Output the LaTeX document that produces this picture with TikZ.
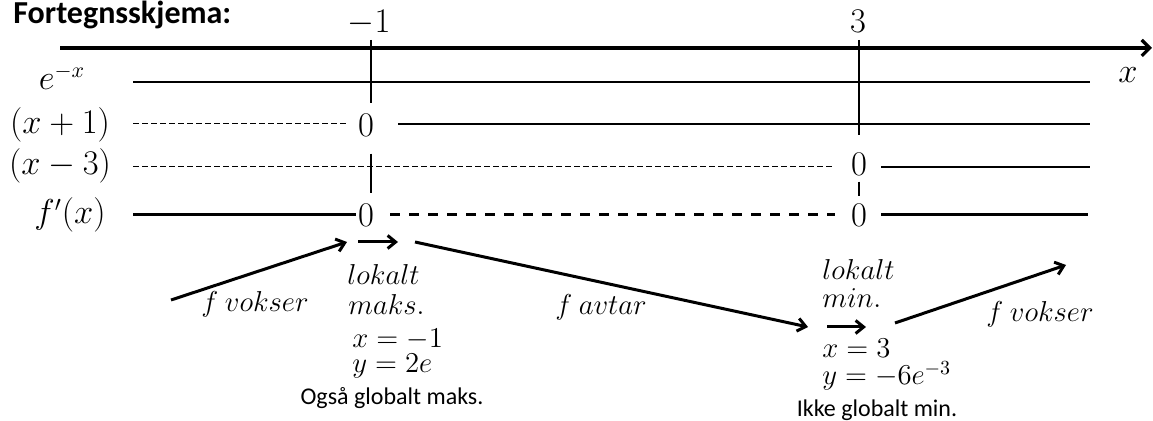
\documentclass[tikz,border=0pt]{standalone}
\usepackage{fontspec}
\setmainfont{Carlito}
\usetikzlibrary{arrows.meta}

\begin{document}
\begin{tikzpicture}[x=0.5pt,y=-0.5pt,
  every node/.style={inner sep=0pt},
  rowlabel/.style={font=\fontsize{16}{18}\selectfont},
  zero/.style={font=\fontsize{16}{18}\selectfont},
  ticklabel/.style={font=\fontsize{17}{19}\selectfont, anchor=base},
  note/.style={font=\fontsize{14}{16}\selectfont, anchor=base west},
  point/.style={align=left, anchor=north west},
  remark/.style={font=\fontsize{12}{14}\selectfont, anchor=base},
  trend/.style={font=\fontsize{14.5}{16}\selectfont, anchor=base},
  axisline/.style={line width=2pt, -{Straight Barb[length=4pt,width=8pt,line width=1.6pt]}},
  signline/.style={line width=1pt},
  sumline/.style={line width=1.5pt},
  negthin/.style={line width=0.5pt, dash pattern=on 3pt off 1.5pt},
  negthick/.style={line width=1.5pt, dash pattern=on 5pt off 4.5pt},
  divider/.style={line width=1pt},
  trendarrow/.style={line width=1.5pt, -{Straight Barb[length=4pt,width=6.5pt,line width=1.5pt]}}
]
\useasboundingbox (0,0) rectangle (1153,421);

% title
\node[font=\fontsize{16}{18}\selectfont\bfseries, anchor=base west] (title) at (13,24) {Fortegnsskjema:};

% number line
\coordinate (ax0) at (60,48);
\coordinate (ax1) at (1152,48);
\draw[axisline] (ax0) -- (ax1);
\node[font=\fontsize{16}{18}\selectfont, anchor=base] (xlab) at (1128,83) {$x$};
\node[ticklabel] (tm1) at (369,33) {$-1$};
\node[ticklabel] (t3) at (858,33) {$3$};

% row labels
\node[rowlabel] (lexp) at (62,77) {$e^{-x}$};
\node[rowlabel] (lp1) at (60,125) {$(x+1)$};
\node[rowlabel] (lm3) at (60,166) {$(x-3)$};
\node[rowlabel] (lfd) at (70,215) {$f'(x)$};

% zeros
\node[zero] (z1) at (366,125) {$0$};
\node[zero] (z3) at (859,164) {$0$};
\node[zero] (zf1) at (366,215) {$0$};
\node[zero] (zf3) at (859,215) {$0$};

% row 1: e^{-x}
\coordinate (r1a) at (133,82);
\coordinate (r1b) at (1090,82);
\draw[signline] (r1a) -- (r1b);

% row 2: (x+1)
\coordinate (r2a) at (133,124);
\coordinate (r2b) at (1090,124);
\draw[negthin, shorten >=5pt] (r2a) -- (z1.west |- r2a);
\draw[signline, shorten <=12pt] (z1.east |- r2b) -- (r2b);

% row 3: (x-3)
\coordinate (r3a) at (133,167);
\coordinate (r3b) at (1090,167);
\draw[negthin, shorten >=9pt] (r3a) -- (z3.west |- r3a);
\draw[signline, shorten <=7pt] (z3.east |- r3b) -- (r3b);

% row 4: f'(x)
\coordinate (r4a) at (133,215);
\coordinate (r4b) at (1088,215);
\draw[sumline, shorten >=1pt] (r4a) -- (zf1.west);
\draw[negthick, shorten <=8pt, shorten >=8pt] (zf1.east) -- (zf3.west);
\draw[sumline, shorten <=7pt] (zf3.east) -- (r4b);

% vertical dividers
\coordinate (v1top) at (371,40);
\coordinate (v3top) at (859,40);
\coordinate (v3bot) at (859,135);
\draw[divider] (v1top) -- ([xshift=2.5pt,yshift=5pt]z1.north);
\draw[divider] ([xshift=2.5pt,yshift=-8.5pt]z1.south) -- ([xshift=2.5pt,yshift=5pt]zf1.north);
\draw[divider] (v3top) -- (v3bot);
\draw[divider] ([yshift=-3pt]z3.south) -- ([yshift=3.5pt]zf3.north);

% monotonicity arrows
\coordinate (a1s) at (171,300);
\coordinate (a1e) at (347,242);
\coordinate (a2s) at (358,242);
\coordinate (a2e) at (398,242);
\coordinate (a3s) at (415,242);
\coordinate (a3e) at (808,327);
\coordinate (a4s) at (827,327);
\coordinate (a4e) at (866,327);
\coordinate (a5s) at (895,323);
\coordinate (a5e) at (1066,265);
\draw[trendarrow] (a1s) -- (a1e);
\draw[trendarrow] (a2s) -- (a2e);
\draw[trendarrow] (a3s) -- (a3e);
\draw[trendarrow] (a4s) -- (a4e);
\draw[trendarrow] (a5s) -- (a5e);

% trend labels
\node[trend] (inc1) at (255,312) {$f\ vokser$};
\node[trend] (dec) at (601,315) {$f\ avtar$};
\node[trend] (inc2) at (1040,322) {$f\ vokser$};

% local maximum
\node[note] (mx1) at (347,285) {$lokalt$};
\node[note] (mx2) at (348,315) {$maks.$};
\node[point, font=\fontsize{14}{12.5}\selectfont] (mx3) at (352,329) {$x=-1$\\$y=2e$};
\node[remark] (mx5) at (392,405) {Også globalt maks.};

% local minimum
\node[note] (mn1) at (822,280) {$lokalt$};
\node[note] (mn2) at (822,308) {$min.$};
\node[point, font=\fontsize{14}{13.5}\selectfont] (mn3) at (822,339) {$x=3$\\$y=-6e^{-3}$};
\node[remark] (mn5) at (877,417) {Ikke globalt min.};
\end{tikzpicture}
\end{document}
